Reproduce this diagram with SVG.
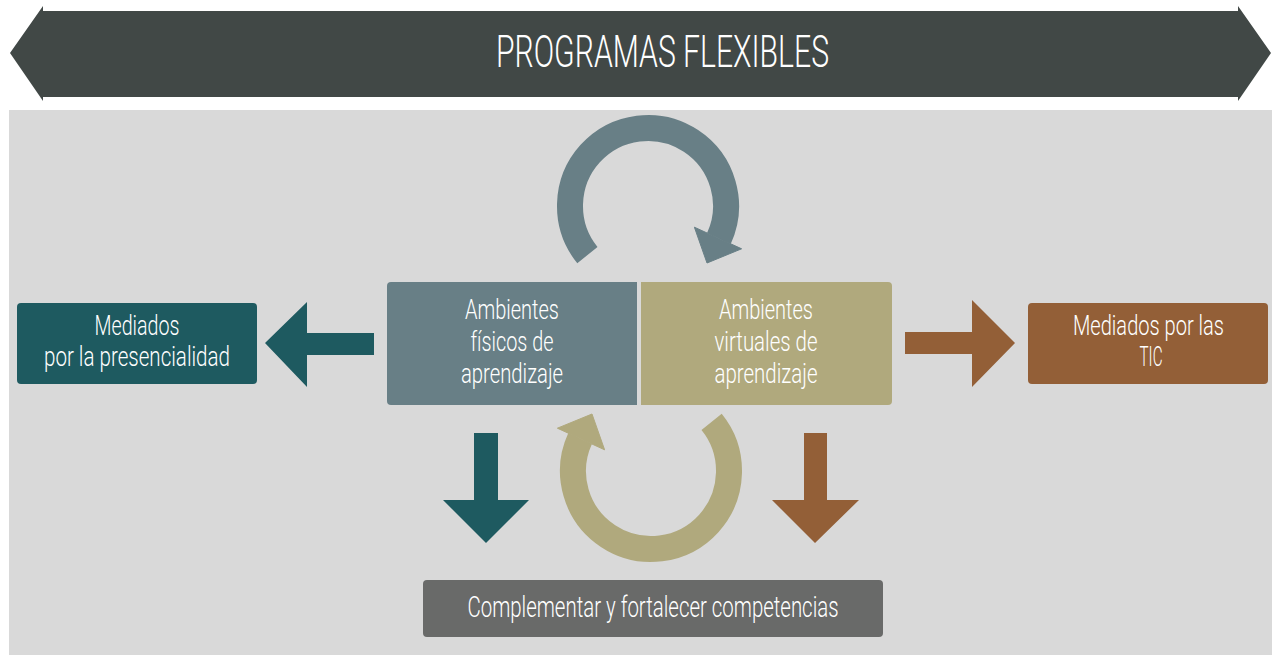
<svg xmlns="http://www.w3.org/2000/svg" width="1274" height="655" viewBox="0 0 1274 655">
<style>
.t{font-family:Roboto,"Liberation Sans",sans-serif;font-weight:300;fill:#ffffff;text-anchor:middle}
.s28{font-size:28px}
.s29{font-size:29px}
.s45{font-size:45px}
.teal{fill:#1e5a60}
.brown{fill:#935f37}
.slate{fill:#687f86}
.khaki{fill:#b0a97d}
</style>
<defs>
<g id="circArrow">
<path d="M -60.6 49.1 A 78 78 0 1 1 70.9 32.5" fill="none" stroke-width="26"/>
<polygon points="46.4,21.2 93.6,42.8 59,57"/>
</g>
</defs>
<rect width="1274" height="655" fill="#ffffff"/>
<rect x="9" y="110" width="1263" height="545" fill="#d9d9d9"/>
<g id="banner">
<polygon points="10,53 43,6 43,11 1238,11 1238,6 1271,53 1238,101 1238,97 43,97 43,101" fill="#414846"/>
<text class="t s45" x="662.5" y="67" textLength="333" lengthAdjust="spacingAndGlyphs">PROGRAMAS FLEXIBLES</text>
</g>
<g id="connectors">
<polygon class="teal" points="265,343 307,302 307,333 374,333 374,355 307,355 307,387"/>
<polygon class="brown" points="1015,343 972,300 972,332 905,332 905,354 972,354 972,387"/>
<polygon class="teal" points="474,433 498,433 498,500 529,500 486,543 443,500 474,500"/>
<polygon class="brown" points="804,433 827,433 827,500 859,500 815,543 772,500 804,500"/>
<use href="#circArrow" transform="translate(648,206)" class="slate" stroke="#687f86"/>
<use href="#circArrow" transform="translate(651,471) rotate(180)" class="khaki" stroke="#b0a97d"/>
</g>
<g id="node-fisicos">
<path class="slate" d="M391,282 H637 V405 H391 Q387,405 387,401 V286 Q387,282 391,282 Z"/>
<text class="t s28" x="512" y="319" textLength="94" lengthAdjust="spacingAndGlyphs">Ambientes</text>
<text class="t s28" x="512" y="351" textLength="83" lengthAdjust="spacingAndGlyphs">físicos de</text>
<text class="t s28" x="512" y="383" textLength="102" lengthAdjust="spacingAndGlyphs">aprendizaje</text>
</g>
<g id="node-virtuales">
<path class="khaki" d="M641,282 H888 Q892,282 892,286 V401 Q892,405 888,405 H641 Z"/>
<text class="t s28" x="766" y="319" textLength="94" lengthAdjust="spacingAndGlyphs">Ambientes</text>
<text class="t s28" x="766" y="351" textLength="103" lengthAdjust="spacingAndGlyphs">virtuales de</text>
<text class="t s28" x="766" y="383" textLength="103" lengthAdjust="spacingAndGlyphs">aprendizaje</text>
</g>
<g id="node-presencialidad">
<rect class="teal" x="17" y="303" width="240" height="81" rx="4"/>
<text class="t s28" x="137" y="335" textLength="85" lengthAdjust="spacingAndGlyphs">Mediados</text>
<text class="t s28" x="137" y="366" textLength="186" lengthAdjust="spacingAndGlyphs">por la presencialidad</text>
</g>
<g id="node-tic">
<rect class="brown" x="1028" y="303" width="240" height="81" rx="4"/>
<text class="t s28" x="1148.5" y="335" textLength="151" lengthAdjust="spacingAndGlyphs">Mediados por las</text>
<text class="t s28" x="1151" y="366" textLength="23" lengthAdjust="spacingAndGlyphs">TIC</text>
</g>
<g id="node-competencias">
<rect x="423" y="580" width="460" height="57" rx="4" fill="#696a69"/>
<text class="t s29" x="653" y="617" textLength="371" lengthAdjust="spacingAndGlyphs">Complementar y fortalecer competencias</text>
</g>
</svg>
